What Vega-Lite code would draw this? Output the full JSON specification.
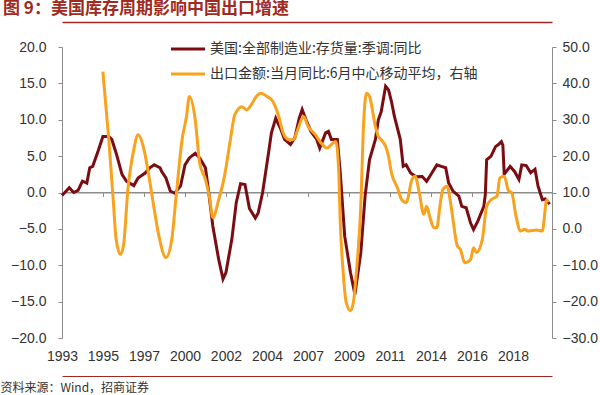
{
  "$schema": "https://vega.github.io/schema/vega-lite/v6.json",
  "width": 490,
  "height": 291,
  "autosize": {"type": "none"},
  "padding": {"left": 62, "top": 47, "right": 48, "bottom": 57},
  "config": {
    "view": {"stroke": null},
    "font": "Liberation Sans",
    "axis": {"grid": false, "labelFont": "Liberation Sans", "labelFontSize": 14, "labelColor": "#333333", "domainColor": "#8c8c8c", "tickColor": "#8c8c8c", "labelOverlap": false},
    "legend": {"labelFont": "Noto Sans CJK SC", "labelFontSize": 14, "labelColor": "#333333", "labelLimit": 500}
  },
  "title": {
    "text": "图 9：美国库存周期影响中国出口增速",
    "anchor": "start",
    "frame": "group",
    "dx": -59,
    "offset": 4,
    "font": "Noto Sans CJK SC",
    "fontSize": 17,
    "fontWeight": "bold",
    "color": "#9E2A22"
  },
  "datasets": {
    "us": [
      {"date": "1993-01-01", "v": -0.4}, {"date": "1993-06-01", "v": 0.65}, {"date": "1993-09-01", "v": 0}, {"date": "1993-12-01", "v": 0.3},
      {"date": "1994-03-01", "v": 1.55}, {"date": "1994-06-01", "v": 1.3}, {"date": "1994-08-01", "v": 3.4}, {"date": "1994-10-01", "v": 3.6},
      {"date": "1995-02-01", "v": 5.9}, {"date": "1995-05-01", "v": 7.7}, {"date": "1995-09-01", "v": 7.7}, {"date": "1995-11-01", "v": 7.3},
      {"date": "1996-02-01", "v": 5.4}, {"date": "1996-06-01", "v": 2.5}, {"date": "1996-09-01", "v": 1.55}, {"date": "1997-02-01", "v": 0.95},
      {"date": "1997-05-01", "v": 2.0}, {"date": "1997-10-01", "v": 2.7}, {"date": "1998-01-01", "v": 3.4}, {"date": "1998-04-01", "v": 3.8},
      {"date": "1998-08-01", "v": 3.4}, {"date": "1998-09-01", "v": 2.9}, {"date": "1998-12-01", "v": 2.0}, {"date": "1999-03-01", "v": 0.2},
      {"date": "1999-06-01", "v": -0.1}, {"date": "1999-10-01", "v": 0.9}, {"date": "2000-01-01", "v": 3.8}, {"date": "2000-04-01", "v": 4.75},
      {"date": "2000-08-01", "v": 5.4}, {"date": "2000-11-01", "v": 4.75}, {"date": "2001-03-01", "v": 3.4}, {"date": "2001-05-01", "v": 0.4},
      {"date": "2001-08-01", "v": -4.6}, {"date": "2001-12-01", "v": -9.2}, {"date": "2002-03-01", "v": -11.9}, {"date": "2002-05-01", "v": -11},
      {"date": "2002-09-01", "v": -6.4}, {"date": "2002-12-01", "v": -1.4}, {"date": "2003-03-01", "v": 1.2}, {"date": "2003-06-01", "v": 1.1},
      {"date": "2003-09-01", "v": -2.2}, {"date": "2004-01-01", "v": -3.5}, {"date": "2004-03-01", "v": -2.8}, {"date": "2004-06-01", "v": 0},
      {"date": "2004-10-01", "v": 5.4}, {"date": "2004-12-01", "v": 8.2}, {"date": "2005-03-01", "v": 10.2}, {"date": "2005-06-01", "v": 8.9},
      {"date": "2005-09-01", "v": 7.3}, {"date": "2006-01-01", "v": 6.6}, {"date": "2006-04-01", "v": 7.5}, {"date": "2006-07-01", "v": 10.2},
      {"date": "2006-09-01", "v": 11.4}, {"date": "2006-12-01", "v": 9.8}, {"date": "2007-03-01", "v": 8.4}, {"date": "2007-07-01", "v": 7.3},
      {"date": "2007-09-01", "v": 6.1}, {"date": "2008-01-01", "v": 8.2}, {"date": "2008-03-01", "v": 8.4}, {"date": "2008-05-01", "v": 7.3},
      {"date": "2008-09-01", "v": 7.3}, {"date": "2008-11-01", "v": 2.7}, {"date": "2009-02-01", "v": -6}, {"date": "2009-06-01", "v": -11},
      {"date": "2009-09-01", "v": -14}, {"date": "2010-01-01", "v": -8.3}, {"date": "2010-04-01", "v": -0.5}, {"date": "2010-07-01", "v": 4.5},
      {"date": "2010-11-01", "v": 7.3}, {"date": "2011-01-01", "v": 10}, {"date": "2011-03-01", "v": 11.1}, {"date": "2011-06-01", "v": 14.6},
      {"date": "2011-08-01", "v": 14.1}, {"date": "2011-10-01", "v": 12.5}, {"date": "2011-12-01", "v": 10.45}, {"date": "2012-04-01", "v": 7.3},
      {"date": "2012-06-01", "v": 3.6}, {"date": "2012-08-01", "v": 3.8}, {"date": "2012-11-01", "v": 2.7}, {"date": "2013-03-01", "v": 2.15},
      {"date": "2013-07-01", "v": 2.2}, {"date": "2013-10-01", "v": 1.55}, {"date": "2014-01-01", "v": 2.5}, {"date": "2014-05-01", "v": 3.8},
      {"date": "2014-08-01", "v": 3.6}, {"date": "2014-11-01", "v": 3.4}, {"date": "2015-01-01", "v": 1.3}, {"date": "2015-04-01", "v": 0.2},
      {"date": "2015-08-01", "v": -0.5}, {"date": "2015-10-01", "v": -1.9}, {"date": "2016-01-01", "v": -2.1}, {"date": "2016-04-01", "v": -4.2},
      {"date": "2016-06-01", "v": -5.1}, {"date": "2016-09-01", "v": -3.9}, {"date": "2017-01-01", "v": -1.9}, {"date": "2017-02-01", "v": -0.3},
      {"date": "2017-03-01", "v": 4.5}, {"date": "2017-06-01", "v": 5}, {"date": "2017-09-01", "v": 6.3}, {"date": "2017-11-01", "v": 6.6},
      {"date": "2018-01-01", "v": 7}, {"date": "2018-02-01", "v": 6.5}, {"date": "2018-03-01", "v": 2.5}, {"date": "2018-07-01", "v": 3.6},
      {"date": "2018-10-01", "v": 2.9}, {"date": "2019-01-01", "v": 1.8}, {"date": "2019-03-01", "v": 3.8}, {"date": "2019-06-01", "v": 3.7},
      {"date": "2019-09-01", "v": 2.7}, {"date": "2019-12-01", "v": 3.2}, {"date": "2020-02-01", "v": 0.9}, {"date": "2020-05-01", "v": -1},
      {"date": "2020-07-01", "v": -0.9}, {"date": "2020-10-01", "v": -1.6}
    ],
    "cn": [
      {"date": "1995-05-01", "v": 43.2}, {"date": "1995-09-01", "v": 24.5}, {"date": "1995-12-01", "v": 8.1}, {"date": "1996-02-01", "v": -2.9},
      {"date": "1996-05-01", "v": -7}, {"date": "1996-07-01", "v": -4.7}, {"date": "1996-10-01", "v": 10.8}, {"date": "1997-02-01", "v": 21.8},
      {"date": "1997-05-01", "v": 25.9}, {"date": "1997-09-01", "v": 21.8}, {"date": "1997-12-01", "v": 15.4}, {"date": "1998-03-01", "v": 8},
      {"date": "1998-07-01", "v": -1.5}, {"date": "1998-12-01", "v": -7.9}, {"date": "1999-04-01", "v": -2.9}, {"date": "1999-07-01", "v": 9},
      {"date": "1999-11-01", "v": 24.5}, {"date": "2000-02-01", "v": 30.9}, {"date": "2000-04-01", "v": 36.4}, {"date": "2000-08-01", "v": 30},
      {"date": "2000-11-01", "v": 18.1}, {"date": "2001-03-01", "v": 13.6}, {"date": "2001-06-01", "v": 8.1}, {"date": "2001-08-01", "v": 3.1},
      {"date": "2001-12-01", "v": 8}, {"date": "2002-04-01", "v": 14.5}, {"date": "2002-08-01", "v": 24.5}, {"date": "2002-11-01", "v": 31.4},
      {"date": "2003-04-01", "v": 33.6}, {"date": "2003-07-01", "v": 32.7}, {"date": "2003-11-01", "v": 34.6}, {"date": "2004-01-01", "v": 36},
      {"date": "2004-05-01", "v": 37.3}, {"date": "2004-09-01", "v": 36.4}, {"date": "2005-01-01", "v": 35}, {"date": "2005-05-01", "v": 30.9},
      {"date": "2005-08-01", "v": 26.4}, {"date": "2005-12-01", "v": 24.5}, {"date": "2006-03-01", "v": 24.5}, {"date": "2006-06-01", "v": 27.3},
      {"date": "2006-10-01", "v": 30.9}, {"date": "2007-01-01", "v": 28.2}, {"date": "2007-06-01", "v": 25.9}, {"date": "2007-10-01", "v": 23.6},
      {"date": "2008-02-01", "v": 22.2}, {"date": "2008-05-01", "v": 23.2}, {"date": "2008-08-01", "v": 24}, {"date": "2008-10-01", "v": 15.4},
      {"date": "2008-11-01", "v": 1.7}, {"date": "2009-01-01", "v": -12}, {"date": "2009-03-01", "v": -20}, {"date": "2009-06-01", "v": -22.5},
      {"date": "2009-08-01", "v": -20.2}, {"date": "2009-10-01", "v": -12}, {"date": "2010-01-01", "v": 6.2}, {"date": "2010-03-01", "v": 29},
      {"date": "2010-05-01", "v": 37.3}, {"date": "2010-07-01", "v": 36.4}, {"date": "2010-11-01", "v": 28.2}, {"date": "2011-01-01", "v": 25.4},
      {"date": "2011-03-01", "v": 24.5}, {"date": "2011-06-01", "v": 22.7}, {"date": "2011-08-01", "v": 19.9}, {"date": "2011-10-01", "v": 15.4},
      {"date": "2012-02-01", "v": 11.3}, {"date": "2012-05-01", "v": 8}, {"date": "2012-08-01", "v": 7.2}, {"date": "2012-12-01", "v": 13.6},
      {"date": "2013-02-01", "v": 14.5}, {"date": "2013-05-01", "v": 10}, {"date": "2013-08-01", "v": 4}, {"date": "2013-10-01", "v": 6.2},
      {"date": "2013-12-01", "v": 3.5}, {"date": "2014-03-01", "v": 0.3}, {"date": "2014-05-01", "v": 0.3}, {"date": "2014-07-01", "v": 6},
      {"date": "2014-09-01", "v": 10.8}, {"date": "2014-12-01", "v": 11.7}, {"date": "2015-02-01", "v": 8}, {"date": "2015-04-01", "v": 2.6},
      {"date": "2015-07-01", "v": -4.7}, {"date": "2015-09-01", "v": -5.6}, {"date": "2015-12-01", "v": -9.3}, {"date": "2016-04-01", "v": -8.4},
      {"date": "2016-06-01", "v": -5.2}, {"date": "2016-08-01", "v": -6.5}, {"date": "2016-12-01", "v": -2.9}, {"date": "2017-03-01", "v": 6.2},
      {"date": "2017-06-01", "v": 8}, {"date": "2017-10-01", "v": 9}, {"date": "2017-12-01", "v": 14}, {"date": "2018-03-01", "v": 14.5},
      {"date": "2018-06-01", "v": 10.4}, {"date": "2018-08-01", "v": 10}, {"date": "2018-11-01", "v": 3.5}, {"date": "2019-02-01", "v": -0.6},
      {"date": "2019-05-01", "v": -0.1}, {"date": "2019-07-01", "v": -0.6}, {"date": "2020-01-01", "v": -0.3}, {"date": "2020-05-01", "v": -0.6},
      {"date": "2020-08-01", "v": 8}, {"date": "2020-09-01", "v": 7.3}
    ]
  },
  "layer": [
    {
      "layer": [
        {
          "data": {"values": [{}]},
          "mark": {"type": "rule", "color": "#8c8c8c", "strokeWidth": 1},
          "encoding": {
            "x": {"datum": {"year": 1993, "month": 1, "date": 1, "utc": true}, "type": "temporal",
              "scale": {"type": "utc", "domain": [{"year": 1993, "month": 1, "date": 1, "utc": true}, {"year": 2020, "month": 11, "date": 18, "utc": true}]},
              "axis": {"orient": "top", "offset": 25, "values": [], "labels": false, "ticks": false, "title": null, "domainColor": "#9E2A22", "domainWidth": 1.5}},
            "x2": {"datum": {"year": 2020, "month": 11, "date": 18, "utc": true}},
            "y": {"datum": 0, "type": "quantitative", "scale": {"domain": [-20, 20], "nice": false, "zero": false},
              "axis": {"values": [-20, -15, -10, -5, 0, 5, 10, 15, 20], "format": ".1f", "title": null, "tickSize": 4, "labelPadding": 12, "labelOverlap": false, "domainColor": "#8c8c8c"}}
          }
        },
        {
          "data": {"name": "us"},
          "mark": {"type": "line", "strokeWidth": 3},
          "encoding": {
            "x": {
              "field": "date", "type": "temporal",
              "scale": {"type": "utc", "domain": [{"year": 1993, "month": 1, "date": 1, "utc": true}, {"year": 2020, "month": 11, "date": 18, "utc": true}]},
              "axis": {
                "values": [
                  {"year": 1993, "month": 1, "date": 1, "utc": true}, {"year": 1995, "month": 5, "date": 1, "utc": true},
                  {"year": 1997, "month": 9, "date": 1, "utc": true}, {"year": 2000, "month": 1, "date": 1, "utc": true},
                  {"year": 2002, "month": 5, "date": 1, "utc": true}, {"year": 2004, "month": 9, "date": 1, "utc": true},
                  {"year": 2007, "month": 1, "date": 1, "utc": true}, {"year": 2009, "month": 5, "date": 1, "utc": true},
                  {"year": 2011, "month": 9, "date": 1, "utc": true}, {"year": 2014, "month": 1, "date": 1, "utc": true},
                  {"year": 2016, "month": 5, "date": 1, "utc": true}, {"year": 2018, "month": 9, "date": 1, "utc": true}
                ],
                "format": "%Y",
                "offset": 38,
                "domain": true,
                "domainColor": "#9E2A22",
                "domainWidth": 1.2,
                "ticks": false,
                "tickSize": 0,
                "labelPadding": -27,
                "labelBaseline": "top",
                "labelFlush": false,
                "labelOverlap": false,
                "title": "资料来源：Wind，招商证券",
                "titleFont": "Noto Sans CJK SC",
                "titleFontSize": 12,
                "titleFontWeight": "normal",
                "titleColor": "#333333",
                "titleAnchor": "start",
                "titleAlign": "left",
                "titleBaseline": "middle",
                "titleX": -62,
                "titleY": 11
              }
            },
            "y": {
              "field": "v", "type": "quantitative",
              "scale": {"domain": [-20, 20], "nice": false, "zero": false},
              "axis": {"values": [-20, -15, -10, -5, 0, 5, 10, 15, 20], "format": ".1f", "title": null, "tickSize": 4, "labelPadding": 12, "labelOverlap": false, "domainColor": "#8c8c8c"}
            },
            "color": {
              "datum": "美国:全部制造业:存货量:季调:同比",
              "type": "nominal",
              "scale": {"domain": ["美国:全部制造业:存货量:季调:同比", "出口金额:当月同比:6月中心移动平均，右轴"], "range": ["#7A0C12", "#F8A21E"]},
              "legend": {
                "orient": "none", "legendX": 116, "legendY": -8, "title": null,
                "symbolType": "M-2,0H2", "symbolSize": 289, "symbolStrokeWidth": 3,
                "labelOffset": 12, "rowPadding": 8, "padding": 0
              }
            }
          }
        }
      ],
      "resolve": {"axis": {"x": "independent"}}
    },
    {
      "data": {"name": "cn"},
      "mark": {"type": "line", "strokeWidth": 3, "interpolate": "monotone"},
      "encoding": {
        "x": {
          "field": "date", "type": "temporal",
          "scale": {"type": "utc", "domain": [{"year": 1993, "month": 1, "date": 1, "utc": true}, {"year": 2020, "month": 11, "date": 18, "utc": true}]},
          "axis": {
            "values": [
              {"year": 1993, "month": 1, "date": 1, "utc": true}, {"year": 1995, "month": 5, "date": 1, "utc": true},
              {"year": 1997, "month": 9, "date": 1, "utc": true}, {"year": 2000, "month": 1, "date": 1, "utc": true},
              {"year": 2002, "month": 5, "date": 1, "utc": true}, {"year": 2004, "month": 9, "date": 1, "utc": true},
              {"year": 2007, "month": 1, "date": 1, "utc": true}, {"year": 2009, "month": 5, "date": 1, "utc": true},
              {"year": 2011, "month": 9, "date": 1, "utc": true}, {"year": 2014, "month": 1, "date": 1, "utc": true},
              {"year": 2016, "month": 5, "date": 1, "utc": true}, {"year": 2018, "month": 9, "date": 1, "utc": true}
            ],
            "orient": "bottom",
            "offset": -145.5,
            "labels": false,
            "title": null,
            "tickSize": 4,
            "domainColor": "#8c8c8c",
            "tickColor": "#8c8c8c"
          }
        },
        "y": {
          "field": "v", "type": "quantitative",
          "scale": {"domain": [-30, 50], "nice": false, "zero": false},
          "axis": {"orient": "right", "values": [-30, -20, -10, 0, 10, 20, 30, 40, 50], "format": ".1f", "title": null, "tickSize": 4, "labelPadding": 6, "labelOverlap": false}
        },
        "color": {"datum": "出口金额:当月同比:6月中心移动平均，右轴", "type": "nominal"}
      }
    }
  ],
  "resolve": {"scale": {"y": "independent"}, "axis": {"x": "independent"}}
}
